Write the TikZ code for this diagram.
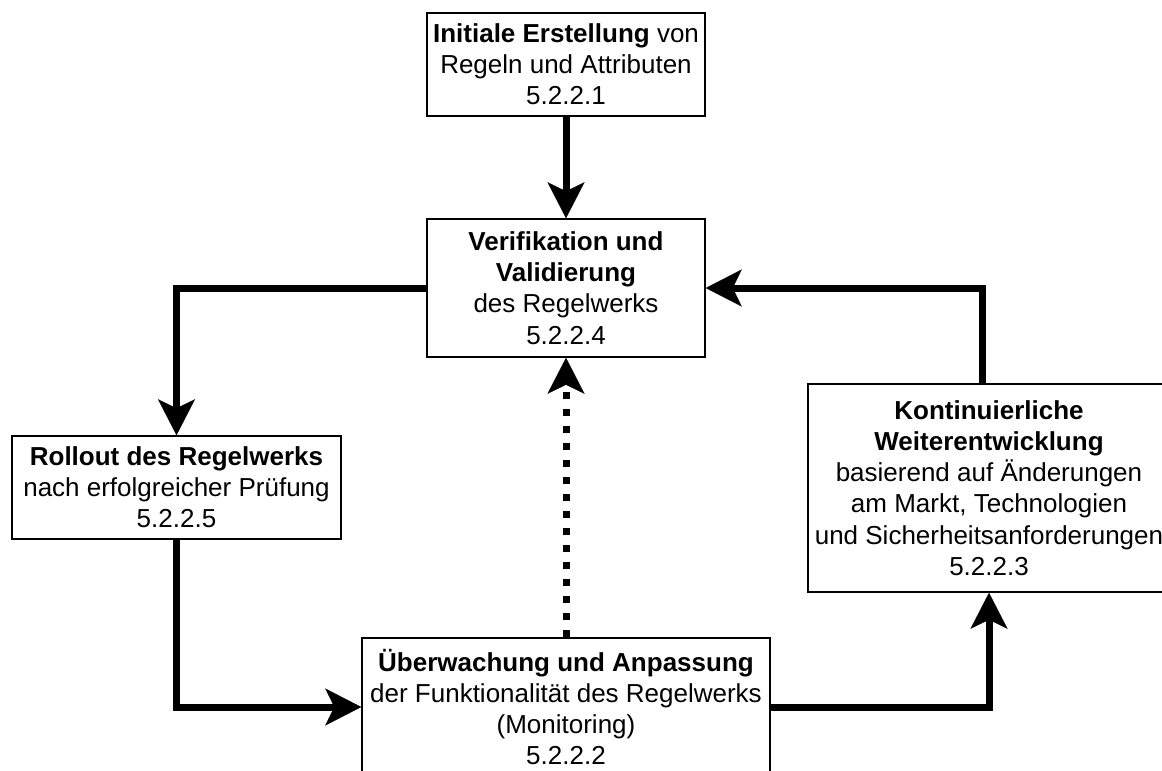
\documentclass[tikz,border=0pt]{standalone}
\usepackage{fontspec}
\setmainfont{Liberation Sans}
\usetikzlibrary{arrows.meta}
\begin{document}
\begin{tikzpicture}[x=1pt,y=1pt,
  box/.style={draw=black,line width=1.5pt,fill=white,inner sep=0pt,align=center,
    font=\fontsize{26}{31.2}\selectfont},
  conn/.style={line width=7pt,black,
    -{Stealth[length=36pt,width=37pt,inset=9pt,line width=0.1pt]}},
  dotconn/.style={conn,dash pattern=on 7pt off 10pt}]
\useasboundingbox (0,0) rectangle (1162,-771);
\clip (0,0) rectangle (1162,-771);
\node[box,minimum width=278pt,minimum height=103pt] (init) at (566,-64.5)
  {\textbf{Initiale Erstellung} von\\Regeln und Attributen\\5.2.2.1};
\node[box,minimum width=278pt,minimum height=138pt] (verif) at (566,-288)
  {\textbf{Verifikation und}\\\textbf{Validierung}\\des Regelwerks\\5.2.2.4};
\node[box,minimum width=329pt,minimum height=103pt] (roll) at (176.5,-487.5)
  {\textbf{Rollout des Regelwerks}\\nach erfolgreicher Prüfung\\5.2.2.5};
\node[box,minimum width=408pt,minimum height=138pt] (mon) at (566,-707)
  {\textbf{Überwachung und Anpassung}\\der Funktionalität des Regelwerks\\(Monitoring)\\5.2.2.2};
\node[box,minimum width=362pt,minimum height=208pt] (dev) at (989,-488)
  {\textbf{Kontinuierliche}\\\textbf{Weiterentwicklung}\\basierend auf Änderungen\\am Markt, Technologien\\und Sicherheitsanforderungen\\5.2.2.3};
\draw[conn] (init.south) -- (verif.north);
\draw[conn] (verif.west) -| (roll.north);
\draw[conn] (roll.south) |- (mon.west);
\draw[conn] (mon.east) -| (dev.south);
\draw[conn] ([xshift=-7pt]dev.north) |- (verif.east);
\draw[dotconn] (mon.north) -- (verif.south);
\end{tikzpicture}
\end{document}
